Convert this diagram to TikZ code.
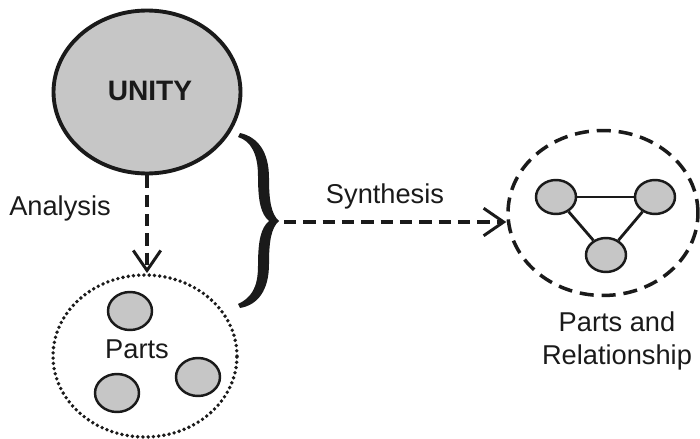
\documentclass[tikz,border=0pt]{standalone}
\usepackage{fontspec}
\setmainfont{Liberation Sans}
\usetikzlibrary{shapes.geometric,arrows.meta}
\definecolor{fillgray}{HTML}{C6C6C6}
\definecolor{ink}{HTML}{1A1A1A}
\tikzset{
  lbl/.style={font=\fontsize{15.5}{18.5}\selectfont, text=ink, inner sep=0pt, align=center},
  bigfill/.style={ellipse, draw=ink, fill=fillgray, line width=2.2pt, inner sep=0pt},
  part/.style={ellipse, draw=ink, fill=fillgray, line width=1.4pt, inner sep=0pt, minimum width=0.88cm, minimum height=0.76cm},
  rpart/.style={ellipse, draw=ink, fill=fillgray, line width=1.4pt, inner sep=0pt, minimum width=0.8cm, minimum height=0.68cm},
  dasharrow/.style={draw=ink, line width=1.9pt, dash pattern=on 7pt off 4pt, -{Straight Barb[length=0.4cm, width=0.55cm, line width=1.7pt]}},
  link/.style={draw=ink, line width=1.6pt}
}
\begin{document}
\begin{tikzpicture}[x=0.02cm, y=-0.02cm]
\useasboundingbox (0,0) rectangle (700,439);
% UNITY
\node[bigfill, minimum width=3.74cm, minimum height=3.26cm] (unity) at (147,92) {};
\node[lbl, font=\fontsize{16}{19}\selectfont\bfseries] (unitytext) at (150,91) {UNITY};
% Parts group
\node[ellipse, draw=ink, line width=2.2pt, line cap=round, dash pattern=on 0pt off 3pt, minimum width=3.68cm, minimum height=3.24cm, inner sep=0pt] (parts) at (145,356) {};
\node[part] (p1) at (130,311) {};
\node[part] (p2) at (117,393) {};
\node[part] (p3) at (198,377) {};
\node[lbl] (partstext) at (137,349) {Parts};
% Analysis arrow
\node[lbl] (analysis) at (60,208) {Analysis};
\draw[dasharrow] (unity.south) -- (unity.south |- parts.north);
% Brace
\fill[ink] (240,133)
  .. controls (258,137) and (269,152) .. (269,178)
  .. controls (269,200) and (271,214) .. (279,221)
  .. controls (271,228) and (269,242) .. (269,264)
  .. controls (269,290) and (258,305) .. (240,308)
  -- (238,304)
  .. controls (251,298) and (258,288) .. (258,266)
  .. controls (258,240) and (261,228) .. (269,221)
  .. controls (261,214) and (258,202) .. (258,176)
  .. controls (258,154) and (251,141) .. (238,137)
  -- cycle;
\coordinate (tip) at (284,222);
% Parts and relationship
\node[ellipse, draw=ink, line width=2pt, dash pattern=on 8pt off 4.5pt, minimum width=3.8cm, minimum height=3.3cm, inner sep=0pt] (rel) at (603,213) {};
\node[rpart] (r1) at (556,197) {};
\node[rpart] (r2) at (655,197) {};
\node[rpart] (r3) at (606,255) {};
\draw[link] (r1) -- (r2);
\draw[link] (r1) -- (r3);
\draw[link] (r2) -- (r3);
\node[lbl] (synth) at (385,196) {Synthesis};
\draw[dasharrow] (tip) -- (tip -| rel.west);
\node[lbl] (reltext) at (617,341) {Parts and\\Relationship};
\end{tikzpicture}
\end{document}
